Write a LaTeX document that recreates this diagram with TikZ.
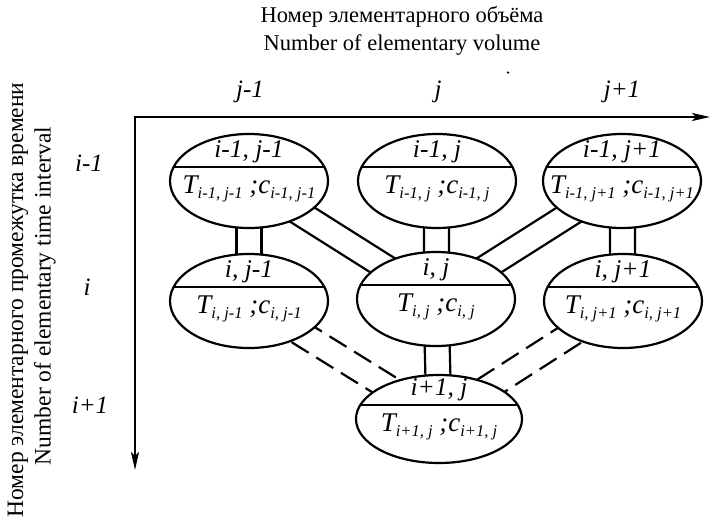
\documentclass[tikz,border=0pt]{standalone}
\usepackage{fontspec}
\setmainfont{Liberation Serif}
\usetikzlibrary{shapes.geometric,calc,backgrounds,arrows.meta}
\newcommand{\subfs}{\fontsize{16.5}{18}\selectfont}
\newcommand{\tcell}[1]{{\fontsize{27}{29}\selectfont\itshape T\raisebox{-5.5pt}{\subfs #1}\ ;c\raisebox{-5.5pt}{\subfs #1}}}
\newcommand{\hcell}[1]{{\fontsize{25.5}{27}\selectfont\itshape #1}}
\begin{document}
\begin{tikzpicture}[x=1pt,y=-1pt,
  cell/.style={ellipse, draw, line width=2.2pt, fill=white, minimum width=158pt, minimum height=94pt, inner sep=0pt,
    path picture={\draw[line width=2.2pt] ([yshift=14pt]path picture bounding box.west) -- ([yshift=14pt]path picture bounding box.east);}},
  txt/.style={inner sep=0pt, anchor=center},
  conn/.style={line width=2.2pt},
  dconn/.style={line width=2.2pt, dash pattern=on 20pt off 9pt},
  axis/.style={line width=2.6pt, -{Stealth[length=18pt,width=8pt,inset=4pt]}},
  title/.style={inner sep=0pt, font=\fontsize{22.5}{25}\selectfont},
  vtitle/.style={inner sep=0pt, font=\fontsize{23.5}{25}\selectfont},
  idx/.style={inner sep=0pt, font=\fontsize{25}{27}\selectfont\itshape}
]
\useasboundingbox (0,0) rectangle (712,519);

% axes
\coordinate (o) at (135,117);
\coordinate (xe) at (710,117);
\coordinate (ye) at (135,470);
\draw[axis] ([xshift=-1.3pt]o) -- (xe);
\draw[axis] (o) -- (ye);

% titles
\node[title] (tt1) at (402,17) {Номер элементарного объёма};
\node[title] (tt2) at (402,45) {Number of elementary volume};
\node[vtitle, rotate=90] (vt1) at (18,300) {Номер элементарного промежутка времени};
\node[vtitle, rotate=90] (vt2) at (45,296) {Number of elementary time interval};

% column / row indices
\node[idx] (cj1) at (250,92) {j-1};
\node[idx] (cj2) at (438,92) {j};
\node[idx] (cj3) at (622,92) {j+1};
\node[idx] (ri1) at (89,163) {i-1};
\node[idx] (ri2) at (87,287) {i};
\node[idx] (ri3) at (90,405) {i+1};
\draw[line width=1.5pt] (507,72) -- (509,73);

% cells
\node[cell] (c11) at (249,181) {};
\node[cell] (c12) at (437,181) {};
\node[cell] (c13) at (622,181) {};
\node[cell] (c21) at (249,301) {};
\node[cell] (c22) at (436,299) {};
\node[cell] (c23) at (623,301) {};
\node[cell, minimum width=166pt, minimum height=88pt] (c32) at (439,419) {};

\foreach \n/\h/\t in {c11/{i-1, j-1}/{i-1, j-1}, c12/{i-1, j}/{i-1, j}, c13/{i-1, j+1}/{i-1, j+1},
                      c21/{i, j-1}/{i, j-1}, c22/{i, j}/{i, j}, c23/{i, j+1}/{i, j+1}, c32/{i+1, j}/{i+1, j}}{
  \node[txt] (\n h) at ($(\n)+(0,-29)$) {\hcell{\h}};
  \node[txt] (\n t) at ($(\n)+(0,8)$) {\tcell{\t}};
}

% connectors
\begin{pgfonlayer}{background}
\foreach \a/\b in {c11/c21, c12/c22, c13/c23, c22/c32, c11/c22, c13/c22}{
  \draw[conn] ($(\a)!12.5pt!90:(\b)$) -- ($(\b)!12.5pt!-90:(\a)$);
  \draw[conn] ($(\a)!12.5pt!-90:(\b)$) -- ($(\b)!12.5pt!90:(\a)$);
}
\foreach \a/\b in {c21/c32, c23/c32}{
  \draw[dconn] ($(\a)!12.5pt!90:(\b)$) -- ($(\b)!12.5pt!-90:(\a)$);
  \draw[dconn] ($(\a)!12.5pt!-90:(\b)$) -- ($(\b)!12.5pt!90:(\a)$);
}
\end{pgfonlayer}
\end{tikzpicture}
\end{document}
